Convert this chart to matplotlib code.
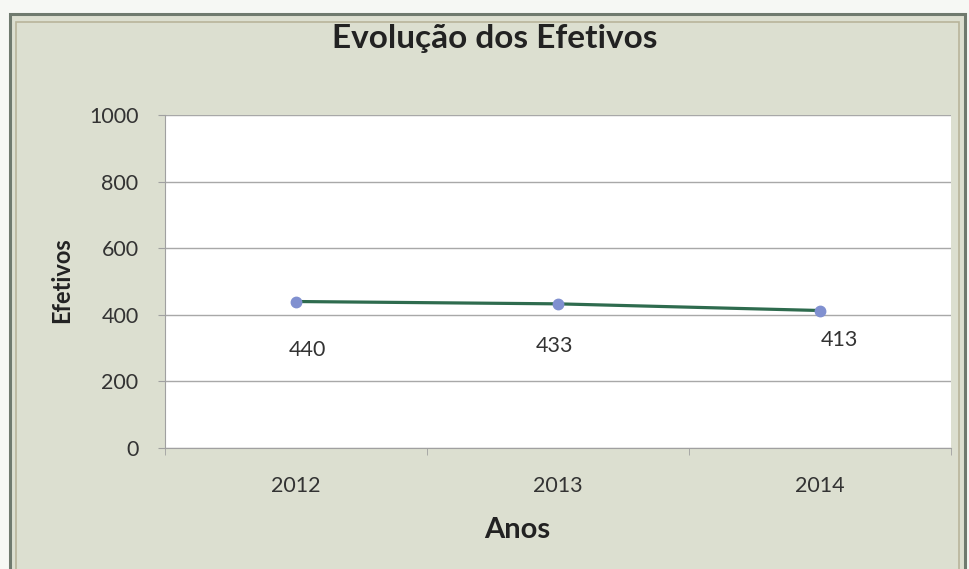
import matplotlib
matplotlib.use("Agg")
import matplotlib.pyplot as plt
from matplotlib.patches import Rectangle

plt.rcParams['font.family'] = ['Lato', 'DejaVu Sans']

# data
anos = ['2012', '2013', '2014']
efetivos = [440, 433, 413]
label_offsets = [(8, -35), (-2, -30), (14, -21)]   # value label offsets, points
yticks = [0, 200, 400, 600, 800, 1000]

fig = plt.figure(figsize=(9.7, 5.69), dpi=100)
fig.patch.set_facecolor('#f6f8f4')

# chart frame with its grey-green panel (kept behind the axes)
frame = Rectangle((0.010, -0.01), 0.985, 0.985, transform=fig.transFigure,
                  facecolor='#dcdfd0', edgecolor='#6f7a6e', linewidth=2.2, zorder=-10)
fig.patches.append(frame)
inner = Rectangle((0.017, -0.01), 0.972, 0.972, transform=fig.transFigure,
                  facecolor='none', edgecolor='#b8b49a', linewidth=1.2, zorder=-9)
fig.patches.append(inner)

ax = fig.add_axes([0.170, 0.2127, 0.810, 0.585])
ax.set_facecolor('white')

x = list(range(len(anos)))
ax.plot(x, efetivos, color='#2e6b4e', linewidth=2.3, zorder=3)
ax.plot(x, efetivos, linestyle='none', marker='o', markersize=7.5,
        markerfacecolor='#8090d0', markeredgecolor='#8090d0', zorder=4)

for xi, v, (dx, dy) in zip(x, efetivos, label_offsets):
    ax.annotate(str(v), (xi, v), xytext=(dx, dy), textcoords='offset points',
                ha='center', va='center', fontsize=15.5, color='#333333')

ax.set_xlim(-0.5, 2.5)
ax.set_ylim(0, 1000)
ax.set_yticks(yticks)
ax.set_yticklabels([str(t) for t in yticks])
ax.set_xticks(x)
ax.set_xticklabels(anos)
ax.set_xticks([-0.5, 0.5, 1.5, 2.5], minor=True)

ax.grid(axis='y', color='#a8a8a8', linewidth=1.0)
ax.set_axisbelow(True)

for side in ['top', 'right']:
    ax.spines[side].set_visible(False)
ax.spines['left'].set_color('#a0a0a0')
ax.spines['bottom'].set_color('#a0a0a0')

ax.tick_params(axis='y', which='major', length=5, color='#a0a0a0', pad=14,
               labelsize=15.5, labelcolor='#333333')
ax.tick_params(axis='x', which='major', length=0, pad=20,
               labelsize=15.5, labelcolor='#333333')
ax.tick_params(axis='x', which='minor', length=5, color='#a0a0a0')

ax.set_ylabel('Efetivos', fontsize=17, fontweight='bold', color='#222222')
ax.yaxis.set_label_coords(-0.131, 0.505)
ax.set_xlabel('Anos', fontsize=21, fontweight='bold', color='#222222')
ax.xaxis.set_label_coords(0.449, -0.246)
ax.xaxis.label.set_va('center')
ax.yaxis.label.set_va('center')

fig.text(0.51, 0.933, 'Evolução dos Efetivos', ha='center', va='center',
         fontsize=24, fontweight='bold', color='#222222')

fig.savefig('out.png', dpi=100, facecolor=fig.get_facecolor())
